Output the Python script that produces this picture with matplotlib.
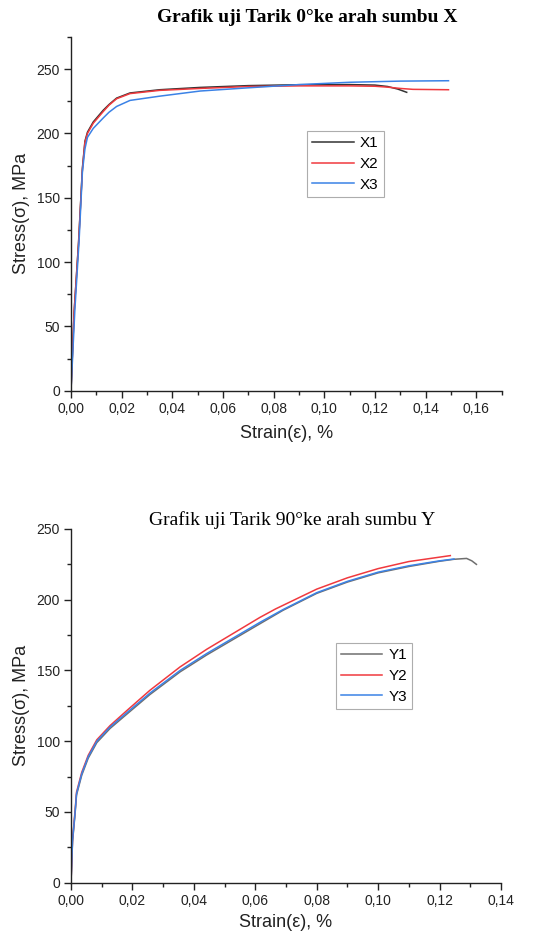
import numpy as np
import matplotlib
matplotlib.use("Agg")
import matplotlib.pyplot as plt
from matplotlib.ticker import MultipleLocator, FuncFormatter

# ---------------- data: top chart (0 deg, X direction) ----------------
x1_strain = [0, 0.0012, 0.003, 0.0045, 0.0055, 0.0065, 0.0088, 0.0127, 0.015, 0.018, 0.0233,
             0.035, 0.051, 0.07, 0.09, 0.11, 0.12, 0.125, 0.129, 0.1325]
x1_stress = [0, 60, 116, 173, 194, 201, 209, 218, 222.5, 227.5, 231.5,
             234, 235.8, 237.2, 237.9, 238, 237.6, 236.5, 234.5, 232]

x2_strain = [0, 0.0012, 0.003, 0.0045, 0.0055, 0.0065, 0.0088, 0.0127, 0.015, 0.018, 0.0233,
             0.035, 0.051, 0.07, 0.09, 0.11, 0.12, 0.125, 0.13, 0.135, 0.149]
x2_stress = [0, 60, 115, 172, 193, 200, 208, 217, 222, 227, 231,
             233.5, 235, 236.5, 237, 237, 236.7, 236, 235, 234.3, 234]

x3_strain = [0, 0.0015, 0.0032, 0.0045, 0.0055, 0.0065, 0.0088, 0.0127, 0.015, 0.018, 0.0233,
             0.035, 0.051, 0.07, 0.09, 0.11, 0.13, 0.149]
x3_stress = [0, 62, 117, 170, 188, 197, 204, 212, 216.5, 221, 225.7,
             229, 233, 235.5, 238, 239.8, 240.7, 241]

# ---------------- data: bottom chart (90 deg, Y direction) ----------------
y1_strain = [0, 0.0005, 0.0013, 0.0018, 0.0035, 0.0056, 0.0084, 0.0127, 0.0181, 0.0257,
             0.0355, 0.0442, 0.0615, 0.069, 0.08, 0.09, 0.10, 0.11, 0.12, 0.1247, 0.1288, 0.1305, 0.132]
y1_stress = [0, 29, 48, 62, 76, 88, 99, 109, 119, 133,
             149, 161, 183, 192.5, 204.5, 212.5, 219, 223.5, 227.2, 228.6, 229.2, 227.5, 225]

y2_strain = [0, 0.0005, 0.0013, 0.0018, 0.0035, 0.0056, 0.0084, 0.0127, 0.0181, 0.0257,
             0.0355, 0.0442, 0.0615, 0.0666, 0.08, 0.09, 0.10, 0.11, 0.1235]
y2_stress = [0, 31, 50, 64, 78, 90, 101, 111, 121.5, 136,
             152.5, 165, 187.5, 193.5, 207.5, 215.5, 222, 227, 231.2]

y3_strain = [0, 0.0005, 0.0013, 0.0018, 0.0035, 0.0056, 0.0084, 0.0127, 0.0181, 0.0257,
             0.0355, 0.0442, 0.0615, 0.069, 0.08, 0.09, 0.10, 0.11, 0.12, 0.1247]
y3_stress = [0, 30, 49, 63, 77, 89, 100, 110, 120, 134,
             150, 162, 184, 193, 205, 213, 219.5, 224, 227.5, 228.8]

top_title = "Grafik uji Tarik 0°ke arah sumbu X"
bottom_title = "Grafik uji Tarik 90°ke arah sumbu Y"
xlabel = "Strain(ε), %"
ylabel = "Stress(σ), MPa"

# ---------------- figure ----------------
plt.rcParams['font.family'] = ['Liberation Sans', 'DejaVu Sans']
W, H = 533, 939
fig = plt.figure(figsize=(W / 100, H / 100), dpi=100)

def px_axes(l, r, t, b):
    return fig.add_axes([l / W, 1 - b / H, (r - l) / W, (b - t) / H])

ax1 = px_axes(71, 501.7, 37, 390.7)
ax2 = px_axes(71, 501, 529, 882.7)

axis_col = '#222222'
comma = FuncFormatter(lambda v, p: f"{v:.2f}".replace('.', ','))

def style(ax, xmax, ymax):
    ax.set_xlim(0, xmax)
    ax.set_ylim(0, ymax)
    for s in ['top', 'right']:
        ax.spines[s].set_visible(False)
    for s in ['left', 'bottom']:
        ax.spines[s].set_linewidth(1.0)
        ax.spines[s].set_color(axis_col)
    ax.xaxis.set_major_locator(MultipleLocator(0.02))
    ax.xaxis.set_minor_locator(MultipleLocator(0.01))
    ax.yaxis.set_major_locator(MultipleLocator(50))
    ax.yaxis.set_minor_locator(MultipleLocator(25))
    ax.xaxis.set_major_formatter(comma)
    ax.tick_params(which='major', direction='out', length=5, width=1.0, color=axis_col,
                   labelsize=10, labelcolor='#222222', pad=3)
    ax.tick_params(which='minor', direction='out', length=3, width=1.0, color=axis_col)
    ax.set_xlabel(xlabel, fontsize=13, color='#222222')
    ax.set_ylabel(ylabel, fontsize=13, color='#222222')
    ax.yaxis.set_label_coords(-0.095, 0.5)

style(ax1, 0.17, 275)
style(ax2, 0.14, 250)
ax1.xaxis.set_label_coords(0.5, -0.098)
ax2.xaxis.set_label_coords(0.5, -0.088)

lw = 1.1
ax1.plot(x1_strain, x1_stress, color='#333333', lw=lw, label='X1')
ax1.plot(x2_strain, x2_stress, color='#f0393e', lw=lw, label='X2')
ax1.plot(x3_strain, x3_stress, color='#3b82e6', lw=lw, label='X3')

ax2.plot(y1_strain, y1_stress, color='#6f6f6f', lw=lw, label='Y1')
ax2.plot(y2_strain, y2_stress, color='#f0393e', lw=lw, label='Y2')
ax2.plot(y3_strain, y3_stress, color='#3b82e6', lw=lw, label='Y3')

def legend(ax, x, y):
    leg = ax.legend(loc='upper left', bbox_to_anchor=(x / W, 1 - y / H),
                    bbox_transform=fig.transFigure, fontsize=11, frameon=True,
                    fancybox=False, shadow=False, borderaxespad=0, handlelength=2.7,
                    handletextpad=0.4, labelspacing=0.45, borderpad=0.35)
    fr = leg.get_frame()
    fr.set_edgecolor('#999999')
    fr.set_linewidth(0.8)
    return leg

legend(ax1, 307, 130.7)
legend(ax2, 335.7, 642.7)

fig.text(307.5 / W, 1 - 18 / H, top_title, ha='center', va='center', fontsize=14,
         fontweight='bold', family=['Liberation Serif', 'DejaVu Serif'])
fig.text(292.5 / W, 1 - 520 / H, bottom_title, ha='center', va='center', fontsize=14,
         family=['Liberation Serif', 'DejaVu Serif'])

fig.savefig('out.png', dpi=100)
